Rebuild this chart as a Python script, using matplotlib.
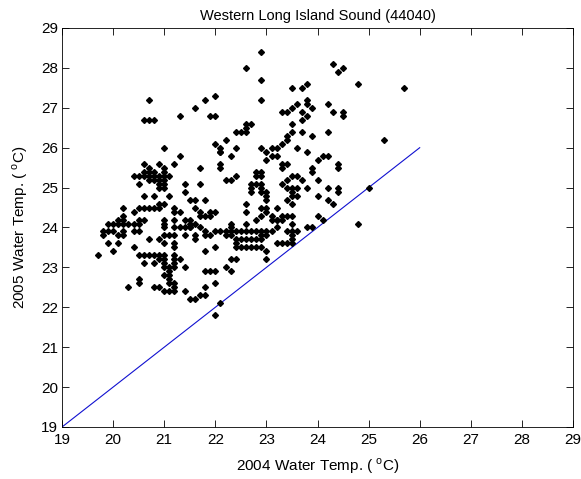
import matplotlib
matplotlib.use("Agg")
import matplotlib.pyplot as plt
import numpy as np

plt.rcParams['font.family'] = ['Liberation Sans', 'DejaVu Sans']

title = "Western Long Island Sound (44040)"
xlabel = "2004 Water Temp. ( $^\\mathregular{o}$C)"
ylabel = "2005 Water Temp. ( $^\\mathregular{o}$C)"
ticks = [19, 20, 21, 22, 23, 24, 25, 26, 27, 28, 29]

pts = [
    # upper right
    (22.9,28.4),(22.6,28.0),(24.3,28.1),(24.4,27.9),(24.5,28.0),(24.8,27.6),(25.7,27.5),(22.9,27.7),(22.9,27.2),
    (23.5,27.5),(23.7,27.5),(23.8,27.6),(23.8,27.2),(23.8,27.1),(23.6,27.1),(23.9,27.0),(24.2,27.1),
    (23.3,26.9),(23.4,26.9),(23.5,27.0),(23.7,26.9),(23.8,26.8),(23.7,26.7),(24.3,26.9),(24.5,26.9),(24.5,26.8),
    (23.5,26.6),(23.5,26.4),(23.7,26.4),(24.2,26.4),(23.9,26.3),(23.4,26.3),(23.4,26.2),(23.3,26.1),(23.1,26.0),
    (23.2,26.0),(23.6,26.0),(23.8,25.9),(25.3,26.2),(22.9,26.0),
    # upper left
    (20.7,27.2),(20.6,26.7),(20.7,26.7),(20.8,26.7),(21.3,26.8),(21.0,26.0),(21.6,27.0),(21.8,27.2),(22.0,27.3),
    (21.9,26.8),(22.0,26.8),(22.4,26.4),(22.5,26.4),(22.6,26.5),(22.6,26.4),(22.7,26.6),(22.6,26.6),(22.0,26.1),
    (22.1,26.0),(22.1,25.9),(22.2,26.2),(22.4,26.0),(21.3,25.8),
    # left cluster top
    (20.6,25.6),(20.9,25.6),(21.2,25.6),(21.0,25.5),(20.7,25.5),(21.0,25.4),
    (20.4,25.3),(20.5,25.3),(20.6,25.3),(20.7,25.3),(20.8,25.3),(20.9,25.3),(21.0,25.3),(21.1,25.3),
    (20.6,25.4),(20.7,25.4),(20.8,25.4),
    (20.7,25.2),(20.8,25.2),(20.9,25.2),(21.0,25.2),
    (20.5,25.1),(20.9,25.1),(21.0,25.1),(20.9,25.0),(21.0,25.0),(21.4,25.1),(21.4,24.9),
    (20.6,24.8),(20.8,24.8),(21.1,24.8),(21.6,24.7),
    (20.2,24.5),(20.5,24.5),(20.6,24.5),(20.7,24.5),(20.8,24.5),(20.9,24.5),(20.9,24.6),(21.0,24.6),(21.2,24.5),
    (20.4,24.4),(20.2,24.3),(21.2,24.4),(21.3,24.4),(21.6,24.5),
    (20.6,24.2),(20.5,24.2),
    (19.9,24.1),(20.0,24.1),(20.1,24.1),(20.2,24.1),(20.3,24.1),(20.4,24.1),(20.5,24.1),
    (20.1,24.2),(20.2,24.2),(21.0,24.2),(21.0,24.1),(21.2,24.2),(21.4,24.2),(21.5,24.1),(21.6,24.1),
    (19.8,23.9),(19.9,23.9),(20.0,23.9),(20.2,23.9),(20.4,23.9),(20.5,23.9),
    (21.0,24.0),(21.2,24.0),(21.3,24.0),(21.4,24.0),(21.5,24.0),
    (20.2,23.8),(19.8,23.8),
    # left cluster bottom
    (20.1,23.8),(20.7,23.7),(20.9,23.7),(21.0,23.8),(21.1,23.8),(21.2,23.8),(21.4,23.8),(21.6,23.7),
    (19.9,23.6),(20.1,23.6),(21.0,23.6),(21.2,23.6),(21.2,23.5),(20.0,23.4),(20.4,23.5),(19.7,23.3),
    (20.5,23.3),(20.6,23.3),(20.7,23.3),(20.8,23.3),(20.9,23.3),(21.0,23.3),(21.2,23.3),
    (20.6,23.1),(20.8,23.1),(20.9,23.2),(21.0,23.2),(21.2,23.2),(21.3,23.2),(21.0,23.1),(21.2,23.1),
    (21.0,23.0),(21.1,23.0),(21.1,22.9),(21.2,23.0),(21.4,23.0),
    (21.1,22.8),(21.1,22.7),(21.0,22.8),(20.5,22.7),(20.5,22.6),(20.3,22.5),
    (20.8,22.5),(20.9,22.5),(21.0,22.4),(21.1,22.4),(21.2,22.5),(21.2,22.4),(21.1,22.6),(21.2,22.6),(21.4,22.4),(21.6,22.2),
    # middle cluster
    (22.1,25.9),(22.3,25.8),(23.0,25.9),(23.0,25.7),(23.1,25.8),(23.3,25.6),(23.4,25.6),(22.1,25.6),(22.1,25.5),(21.7,25.5),
    (23.5,25.3),(23.6,25.3),(22.4,25.3),(22.3,25.2),(22.2,25.2),
    (22.8,25.4),(22.9,25.4),(22.8,25.3),(22.9,25.3),(22.8,25.1),(22.9,25.1),(22.7,25.1),(22.7,25.0),(22.9,25.0),(21.7,25.1),
    (23.3,25.1),(23.5,25.0),(23.5,24.9),(23.6,24.8),
    (22.7,24.9),(22.9,24.9),(23.0,24.9),(23.0,24.8),(23.0,24.7),(21.5,24.7),(21.8,24.7),(22.6,24.6),(22.6,24.4),
    (22.9,24.5),(23.0,24.5),(23.0,24.4),(23.5,24.6),
    (21.7,24.4),(21.8,24.3),(21.9,24.4),(22.0,24.4),(21.7,24.3),(21.9,24.3),
    (21.5,24.2),(21.5,24.0),(21.7,24.0),
    (22.3,24.1),(22.3,24.0),(22.6,24.1),(22.8,24.2),(22.9,24.3),(23.1,24.3),(23.1,24.2),(23.2,24.2),(23.3,24.3),(23.5,24.3),(23.5,24.1),
    (21.8,23.9),(22.0,23.9),(22.1,23.9),(22.2,23.9),(22.3,23.9),(22.4,23.9),(22.5,23.9),(22.6,23.9),(22.7,23.9),
    (22.8,23.9),(22.9,23.9),(23.0,23.9),(23.1,23.9),(23.4,23.9),(23.5,23.9),(23.6,23.9),
    # right of middle
    (23.2,25.8),(23.3,25.5),(24.0,25.7),(24.1,25.8),(24.2,25.8),(24.4,25.6),(24.4,25.5),(23.9,25.5),(23.9,25.4),
    (23.7,25.2),(23.4,25.2),(24.0,25.2),
    (23.4,25.0),(23.6,25.0),(23.8,25.0),(24.2,25.0),(24.4,25.0),(24.4,24.9),(23.5,24.8),(23.4,24.7),
    (24.0,24.8),(24.2,24.7),(24.3,24.6),(23.2,24.5),(23.4,24.3),(24.0,24.3),(24.1,24.2),(23.2,24.2),(23.3,24.2),
    (23.2,24.0),(23.8,24.0),(23.9,24.0),(23.5,23.8),(23.2,23.6),(23.4,23.6),(23.5,23.6),(24.8,24.1),(25.0,25.0),
    # lower middle
    (21.6,23.8),(21.8,23.8),(21.9,23.8),(22.2,23.8),(22.3,23.8),(22.4,23.7),(22.5,23.7),(22.6,23.7),(22.7,23.7),
    (22.8,23.7),(22.9,23.7),(22.9,23.8),(23.0,23.8),(23.5,23.7),(23.3,23.6),
    (22.4,23.6),(22.4,23.5),(22.5,23.5),(22.6,23.5),(22.7,23.5),(22.8,23.5),(22.9,23.5),(21.8,23.4),(22.0,23.5),
    (23.0,23.4),(23.0,23.2),(22.3,23.2),(22.4,23.2),
    (21.8,22.9),(21.9,22.9),(22.0,22.9),(22.2,23.0),(22.3,22.9),(22.0,22.6),(21.8,22.5),(21.5,22.2),(21.7,22.3),
    (21.8,22.3),(22.1,22.1),(22.0,21.8),
]
x2004 = [p[0] for p in pts]
y2005 = [p[1] for p in pts]

line_x = [19, 26]
line_y = [19, 26]

fig = plt.figure(figsize=(5.81, 4.79), dpi=100)
ax = fig.add_axes([62/581, 1-427/479, 511/581, 399/479])
ax.plot(line_x, line_y, color='#1010d0', lw=0.8)
ax.plot(x2004, y2005, linestyle='none', marker='D', markersize=3.0, color='black')
ax.set_xlim(19, 29)
ax.set_ylim(19, 29)
ax.set_xticks(ticks)
ax.set_yticks(ticks)
ax.tick_params(direction='in', top=True, right=True, length=5, width=0.6, labelsize=11)
ax.tick_params(axis='x', pad=4)
ax.tick_params(axis='y', pad=3)
for s in ax.spines.values():
    s.set_linewidth(0.6)
ax.set_title(title, fontsize=10.5, pad=6)
ax.set_xlabel(xlabel, fontsize=11, labelpad=7)
ax.set_ylabel(ylabel, fontsize=11, labelpad=8)
fig.savefig("out.png", dpi=100)
